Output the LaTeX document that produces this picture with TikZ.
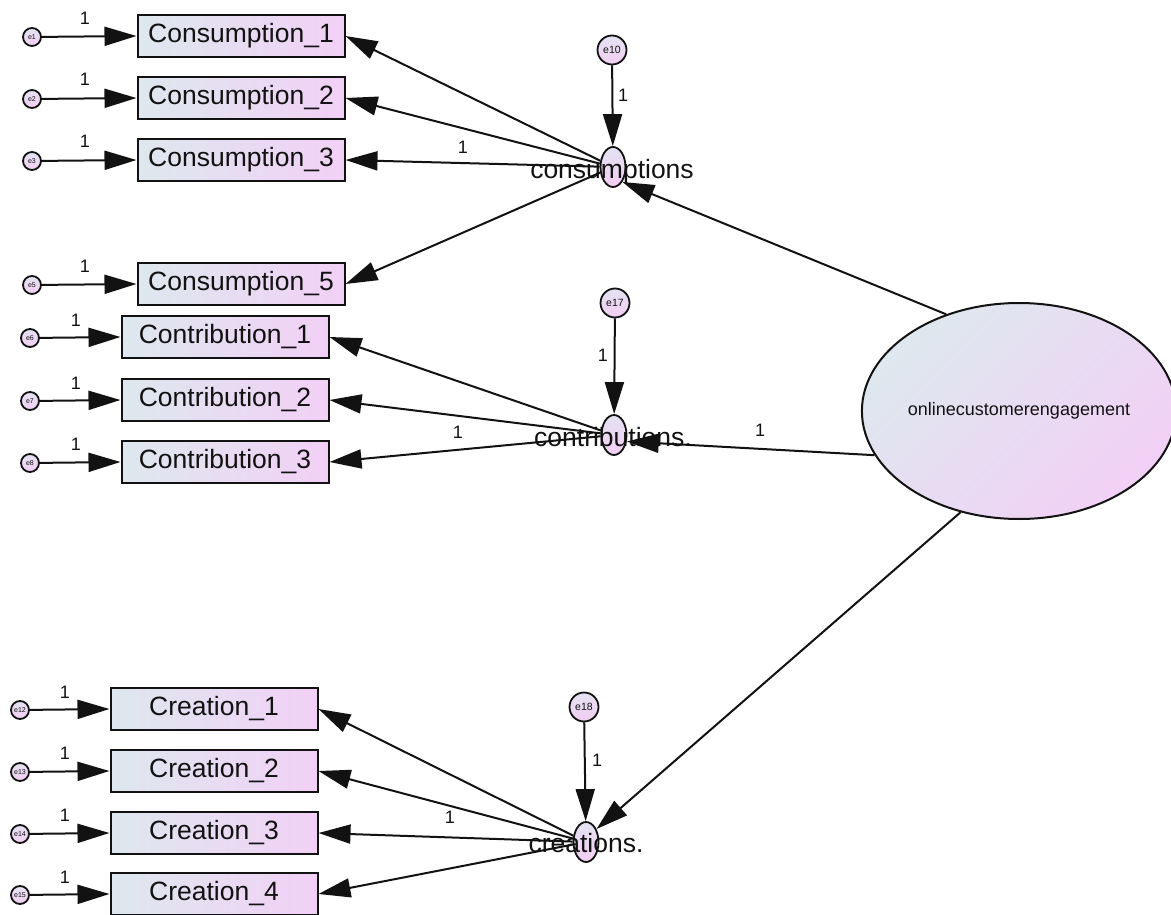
\documentclass[tikz,border=0pt]{standalone}
\usepackage{fontspec}
\setmainfont{Liberation Sans}
\usetikzlibrary{arrows.meta,shapes.geometric}
\definecolor{fillA}{RGB}{222,232,238}
\definecolor{fillB}{RGB}{242,208,246}
\definecolor{latA}{RGB}{228,226,242}
\definecolor{latB}{RGB}{242,206,242}
\definecolor{inkc}{RGB}{18,18,18}
\begin{document}
\begin{tikzpicture}[x=1pt,y=-1pt,
  obs/.style={draw=inkc, line width=2pt, rectangle, minimum width=207pt,
    minimum height=42pt, inner sep=0pt, left color=fillA, right color=fillB,
    font=\fontsize{26.5}{30}\selectfont, text=inkc},
  err/.style={draw=inkc, line width=1.8pt, circle, minimum size=18pt, inner sep=0pt,
    top color=latA, bottom color=latB, font=\fontsize{7}{8}\selectfont, text=inkc},
  bigerr/.style={err, minimum size=29pt, font=\fontsize{10.5}{11}\selectfont},
  lat/.style={draw=inkc, line width=1.8pt, ellipse, minimum width=25pt,
    minimum height=40pt, inner sep=0pt, top color=latA, bottom color=latB},
  latname/.style={font=\fontsize{26.5}{30}\selectfont, text=inkc, inner sep=0pt},
  conn/.style={draw=inkc, line width=2pt, -{Triangle[length=32pt,width=19pt]}},
  one/.style={font=\fontsize{18}{20}\selectfont, text=inkc, inner sep=0pt}
]
\useasboundingbox (0,0) rectangle (1171,915);

% second-order factor
\node[draw=inkc, line width=2pt, ellipse, minimum width=302pt, minimum height=216pt,
  inner sep=0pt, top color=fillA, bottom color=fillB, shading angle=45,
  font=\fontsize{18}{20}\selectfont, text=inkc] (oce) at (1019,411) {onlinecustomerengagement};

% first-order factors
\node[lat] (cons) at (613,167) {};
\node[lat] (contr) at (614,435) {};
\node[lat] (crea) at (586,842) {};

% disturbances
\node[bigerr] (e10) at (612,50) {e10};
\node[bigerr] (e17) at (615,303) {e17};
\node[bigerr] (e18) at (584,707) {e18};

% indicators
\node[obs] (cs1) at (241,36) {Consumption\_1};
\node[obs] (cs2) at (241,98) {Consumption\_2};
\node[obs] (cs3) at (241,160) {Consumption\_3};
\node[obs] (cs5) at (241,284) {Consumption\_5};
\node[obs] (ct1) at (225,337) {Contribution\_1};
\node[obs] (ct2) at (225,400) {Contribution\_2};
\node[obs] (ct3) at (225,462) {Contribution\_3};
\node[obs] (cr1) at (214,709) {Creation\_1};
\node[obs] (cr2) at (214,771) {Creation\_2};
\node[obs] (cr3) at (214,833) {Creation\_3};
\node[obs] (cr4) at (214,894) {Creation\_4};

% measurement errors
\node[err] (e1) at (32,37) {e1};
\node[err] (e2) at (32,99) {e2};
\node[err] (e3) at (32,161) {e3};
\node[err] (e5) at (32,285) {e5};
\node[err] (e6) at (30,338) {e6};
\node[err] (e7) at (30,401) {e7};
\node[err] (e8) at (30,463) {e8};
\node[err] (e12) at (20,710) {e12};
\node[err] (e13) at (20,772) {e13};
\node[err] (e14) at (20,834) {e14};
\node[err] (e15) at (20,895) {e15};

% error paths
\foreach \e/\b in {e1/cs1,e2/cs2,e3/cs3,e5/cs5,e6/ct1,e7/ct2,e8/ct3,e12/cr1,e13/cr2,e14/cr3,e15/cr4}
  \draw[conn] (\e) -- (\b.west);

% loadings
\foreach \b in {cs1,cs2,cs3,cs5} \draw[conn] (cons) -- (\b.east);
\foreach \b in {ct1,ct2,ct3} \draw[conn] (contr) -- (\b.east);
\foreach \b in {cr1,cr2,cr3,cr4} \draw[conn] (crea) -- (\b.east);

% disturbance paths
\draw[conn] (e10) -- (cons);
\draw[conn] (e17) -- (contr);
\draw[conn] (e18) -- (crea);

% structural paths
\draw[conn] (oce.127) -- (cons.-58);
\draw[conn] (oce.197) -- (contr.-27);
\draw[conn] (oce.240) -- (crea.51);

% factor names
\node[latname] (ncons) at (612,172) {consumptions};
\node[latname] (ncontr) at (613,437) {contributions.};
\node[latname] (ncrea) at (586,843) {creations.};

% fixed parameters
\node[one] (w1) at (85,18) {1};
\node[one] (w2) at (85,79) {1};
\node[one] (w3) at (85,141) {1};
\node[one] (w5) at (85,266) {1};
\node[one] (w6) at (76,320) {1};
\node[one] (w7) at (76,383) {1};
\node[one] (w8) at (76,444) {1};
\node[one] (w12) at (65,692) {1};
\node[one] (w13) at (65,753) {1};
\node[one] (w14) at (65,815) {1};
\node[one] (w15) at (65,877) {1};
\node[one] (w10) at (623,95) {1};
\node[one] (w17) at (603,355) {1};
\node[one] (w18) at (597,760) {1};
\node[one] (wcs) at (463,147) {1};
\node[one] (wct) at (458,432) {1};
\node[one] (wcr) at (450,817) {1};
\node[one] (woce) at (760,430) {1};
\end{tikzpicture}
\end{document}
